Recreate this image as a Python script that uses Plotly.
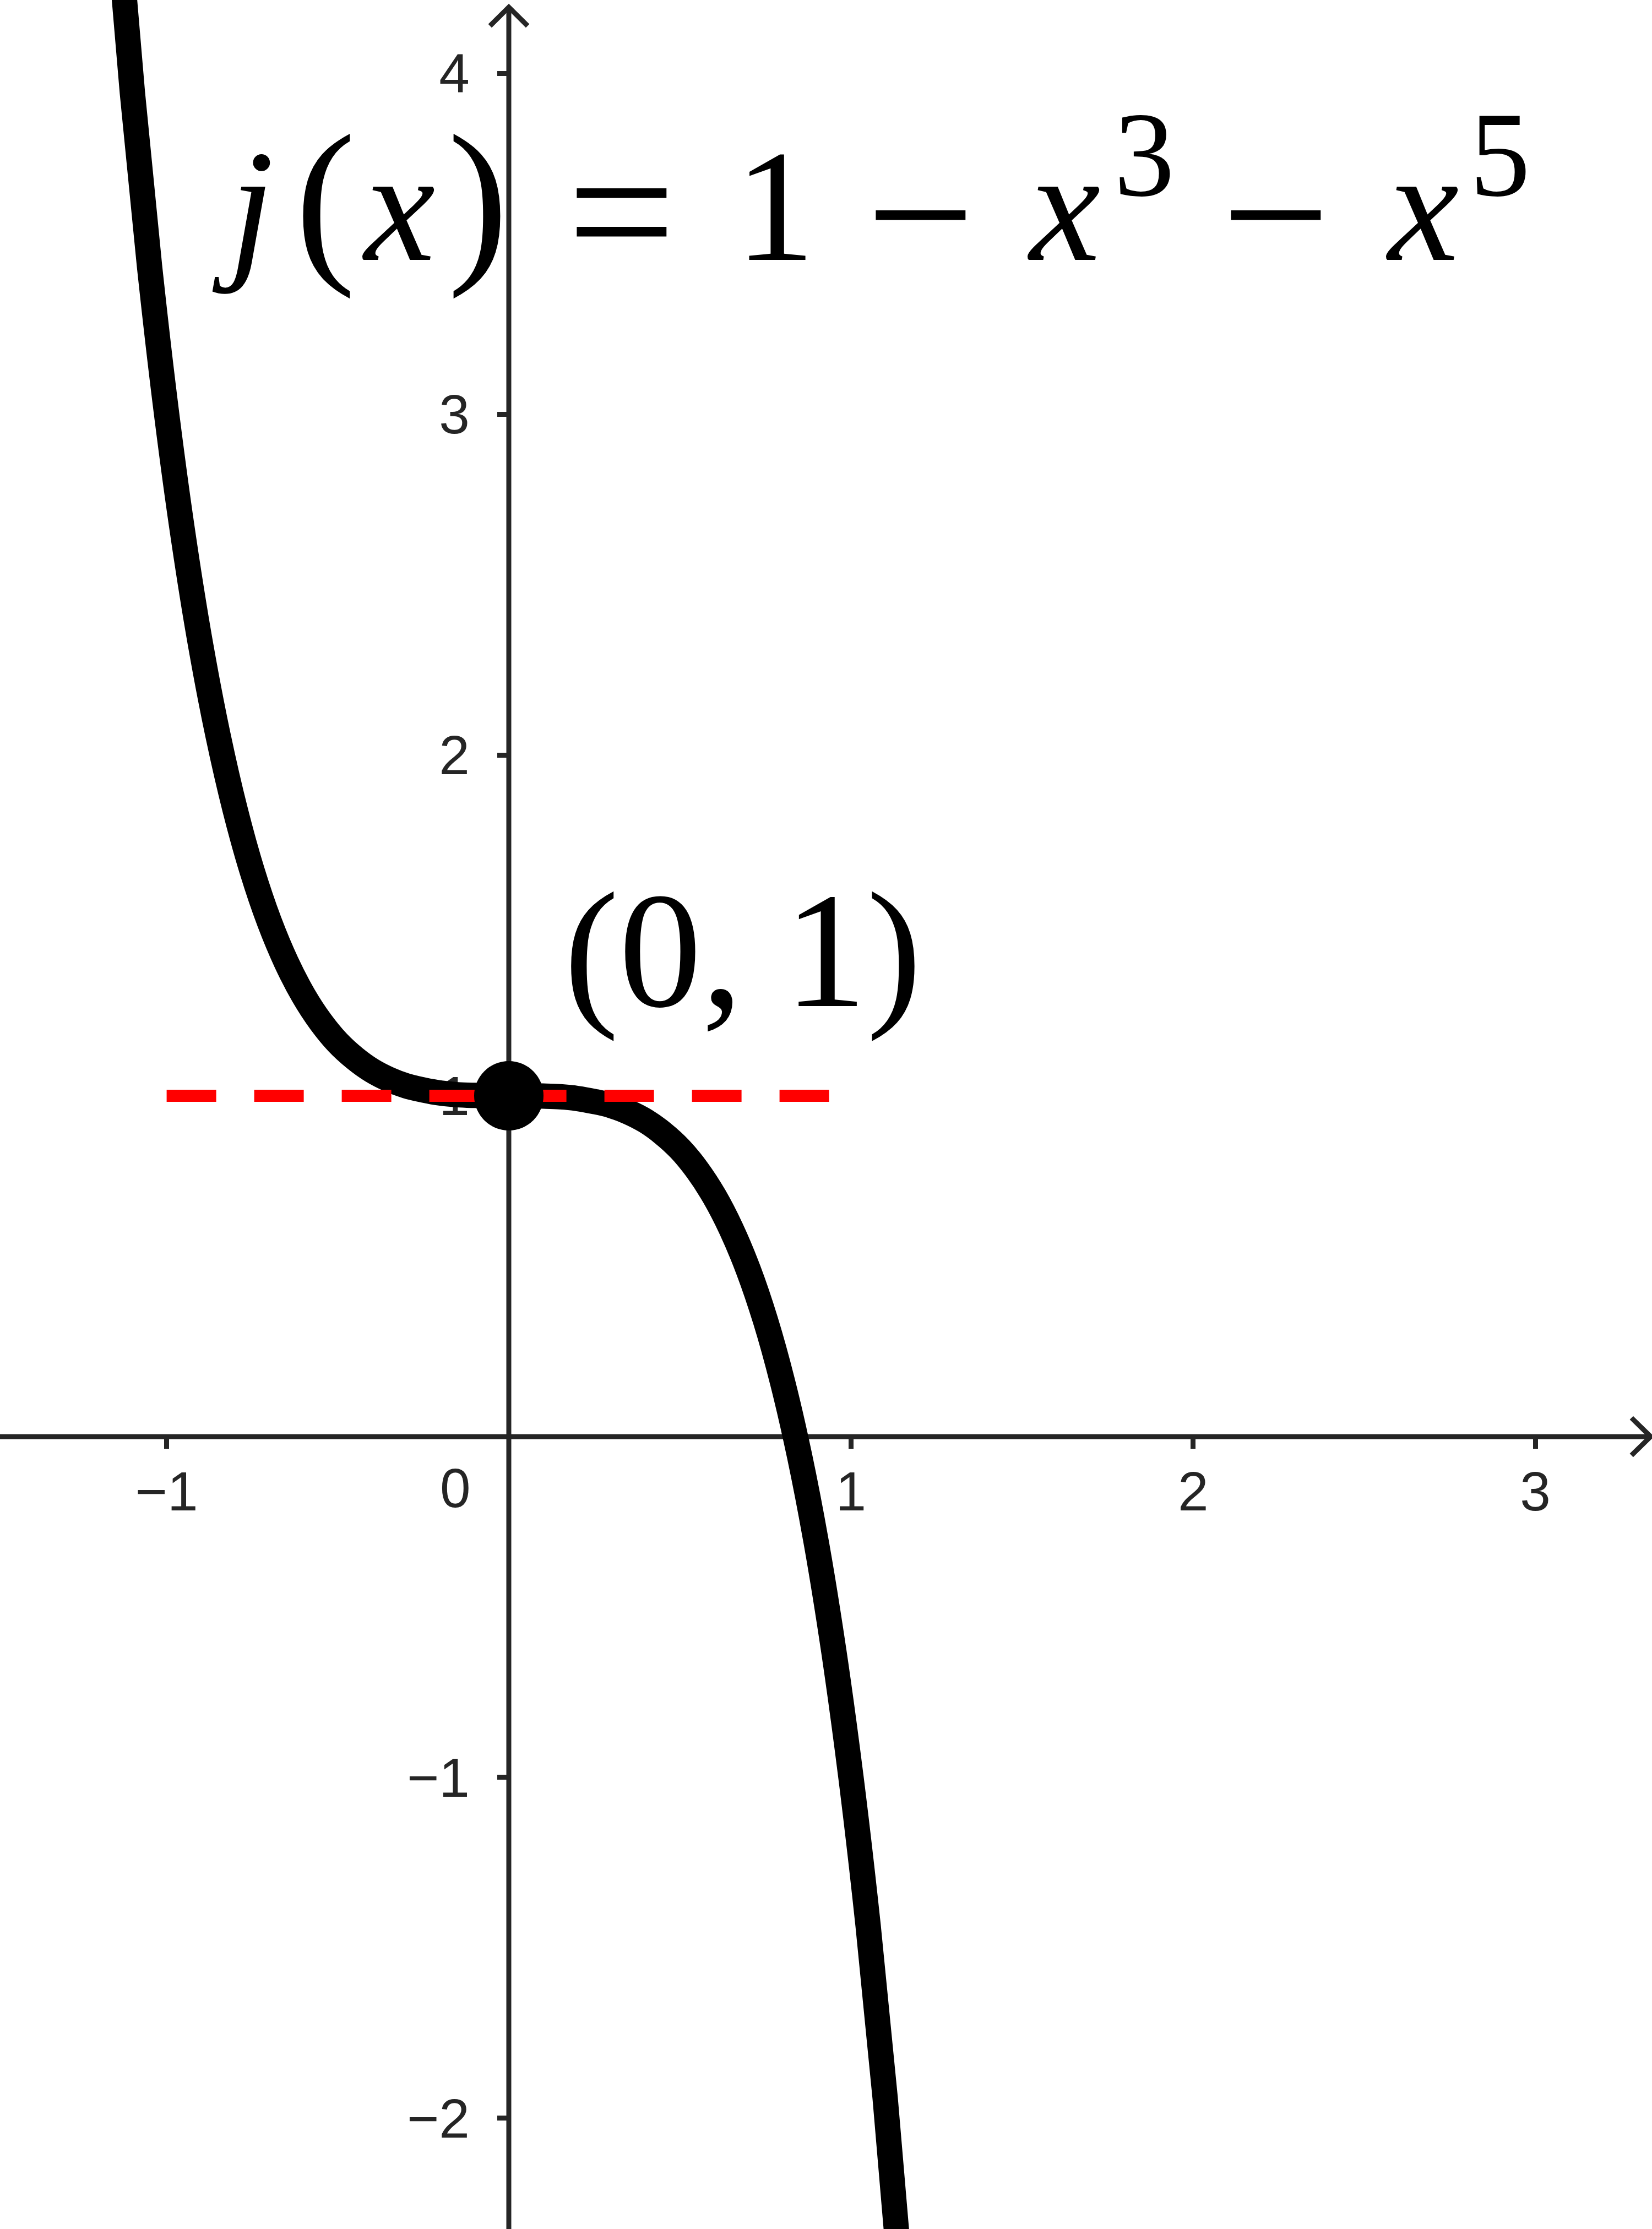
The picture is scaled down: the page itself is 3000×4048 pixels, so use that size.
import plotly.graph_objects as go

# Curve samples j(x) = 1 - x^3 - x^5 (read/tabulated values)
curve_x = [-1.15, -1.10, -1.05, -1.00, -0.95, -0.90, -0.85, -0.80, -0.75, -0.70,
           -0.65, -0.60, -0.55, -0.50, -0.45, -0.40, -0.35, -0.30, -0.25, -0.20,
           -0.15, -0.10, -0.05, 0.00, 0.05, 0.10, 0.15, 0.20, 0.25, 0.30,
           0.35, 0.40, 0.45, 0.50, 0.55, 0.60, 0.65, 0.70, 0.75, 0.80,
           0.85, 0.90, 0.95, 1.00, 1.05, 1.10, 1.15]
curve_y = [4.532, 3.942, 3.434, 3.000, 2.631, 2.319, 2.058, 1.840, 1.659, 1.511,
           1.391, 1.294, 1.217, 1.156, 1.110, 1.074, 1.048, 1.029, 1.017, 1.008,
           1.003, 1.001, 1.000, 1.000, 1.000, 0.999, 0.997, 0.992, 0.983, 0.971,
           0.952, 0.926, 0.890, 0.844, 0.783, 0.706, 0.609, 0.489, 0.341, 0.160,
           -0.058, -0.319, -0.631, -1.000, -1.434, -1.942, -2.532]

# Horizontal dashed tangent line
tangent_x = [-1.0, 0.94]
tangent_y = [1.0, 1.0]

# Highlighted point
point_x = [0]
point_y = [1]
point_label = "(0, 1)"

# Formula tokens: j(x) = 1 − x³ − x⁵
title_tokens = ["<i>j</i>", "(", "<i>x</i>", ")", "=", "1", "\u2212",
                "<i>x</i>", "3", "\u2212", "<i>x</i>", "5"]
title_kinds = ["main", "paren", "main", "paren", "eq", "main", "minus",
               "main", "sup", "minus", "main", "sup"]

# Tick labels
x_tickvals = [-1, 1, 2, 3]
x_ticktext = ["\u22121", "1", "2", "3"]
y_tickvals = [-2, -1, 1, 2, 3, 4]
y_ticktext = ["\u22122", "\u22121", "1", "2", "3", "4"]

XMIN, XMAX = -1.487, 3.341
YMIN, YMAX = -2.325, 4.215
W, H = 3000, 4048

AX = "#252525"
TICKFONT = dict(family="Liberation Sans, Arial, sans-serif", size=100, color=AX)

fig = go.Figure()

fig.add_trace(go.Scatter(x=curve_x, y=curve_y, mode="lines",
                         line=dict(color="black", width=46, shape="spline"),
                         hoverinfo="skip", showlegend=False))
fig.add_trace(go.Scatter(x=tangent_x, y=tangent_y, mode="lines",
                         line=dict(color="#ff0000", width=22, dash="90px,69px"),
                         hoverinfo="skip", showlegend=False))
fig.add_trace(go.Scatter(x=point_x, y=point_y, mode="markers",
                         marker=dict(color="black", size=126, line=dict(width=0)),
                         hoverinfo="skip", showlegend=False))

# axis lines with open arrowheads
ax_shape = dict(type="path", xref="x", yref="y", layer="below",
                line=dict(color=AX, width=9))
x_tip = 3.337
y_tip = 4.194
fig.add_shape(type="line", xref="x", yref="y", x0=XMIN, x1=x_tip, y0=0, y1=0,
              layer="below", line=dict(color=AX, width=9))
fig.add_shape(type="line", xref="x", yref="y", x0=0, x1=0, y0=YMIN, y1=y_tip,
              layer="below", line=dict(color=AX, width=9))
fig.add_shape(path=f"M {x_tip-0.056},{0.055} L {x_tip},0 L {x_tip-0.056},{-0.055}", **ax_shape)
fig.add_shape(path=f"M {-0.055},{y_tip-0.055} L 0,{y_tip} L {0.055},{y_tip-0.055}", **ax_shape)

fig.update_xaxes(range=[XMIN, XMAX], domain=[0, 1], anchor="free",
                 position=(0 - YMIN) / (YMAX - YMIN),
                 showline=False, zeroline=False, showgrid=False,
                 ticks="outside", ticklen=21, tickwidth=9, tickcolor=AX,
                 tickvals=x_tickvals, ticktext=x_ticktext, tickfont=TICKFONT,
                 ticklabelstandoff=-8, layer="below traces", fixedrange=True)
fig.update_yaxes(range=[YMIN, YMAX], domain=[0, 1], anchor="free",
                 position=(0 - XMIN) / (XMAX - XMIN),
                 showline=False, zeroline=False, showgrid=False,
                 ticks="outside", ticklen=21, tickwidth=9, tickcolor=AX,
                 tickvals=y_tickvals, ticktext=y_ticktext, tickfont=TICKFONT,
                 ticklabelstandoff=30, layer="below traces", fixedrange=True)

# "0" origin label offset to the left of the y-axis
fig.add_annotation(x=-0.156, y=0, xref="x", yref="y", text="0", showarrow=False,
                   yanchor="top", yshift=-35, font=TICKFONT)

MATH = "Liberation Serif, Times New Roman, serif"
# horizontal centres (px) of the formula tokens
token_cx = [441, 591, 723, 868, 1128, 1407, 1671, 1931, 2078, 2316, 2582, 2724]
# (font size, vertical centre px) for each kind of token
kind_style = {"main": (290, 375), "paren": (330, 361), "sup": (220, 281),
              "eq": (350, 384), "minus": (350, 389)}
for tok, kind, cx in zip(title_tokens, title_kinds, token_cx):
    size, cy = kind_style[kind]
    fig.add_annotation(xref="paper", yref="paper", x=cx / W, y=1 - cy / H,
                       xanchor="center", yanchor="middle", showarrow=False,
                       text=tok, font=dict(family=MATH, size=size, color="black"))

fig.add_annotation(xref="paper", yref="paper", x=1349 / W, y=1 - 1727 / H,
                   xanchor="center", yanchor="middle", showarrow=False,
                   text=point_label, font=dict(family=MATH, size=300, color="black"))

fig.update_layout(width=W, height=H, margin=dict(l=0, r=0, t=0, b=0),
                  paper_bgcolor="white", plot_bgcolor="white", showlegend=False)

fig.write_html("out.html", config={"displayModeBar": False, "staticPlot": True},
               post_script="document.body.style.margin='0px';document.body.style.overflow='hidden';")
